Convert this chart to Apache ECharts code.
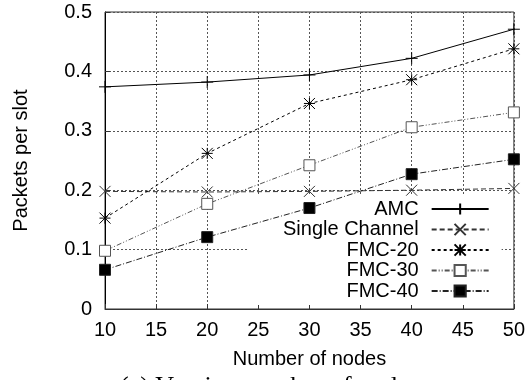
<!DOCTYPE html>
<html>
<head>
<meta charset="utf-8">
<script src="https://cdn.jsdelivr.net/npm/echarts@6/dist/echarts.min.js"></script>
<style>
  html, body { margin: 0; padding: 0; background: #fff; }
  #chart { width: 528px; height: 380px; }
</style>
</head>
<body>
<div id="chart"></div>
<script>
// Throughput (packets per slot) versus number of nodes
const nodes = [10, 20, 30, 40, 50];
const amc = [0.374, 0.382, 0.394, 0.422, 0.471];
const singleChannel = [0.198, 0.197, 0.198, 0.200, 0.203];
const fmc20 = [0.153, 0.262, 0.346, 0.386, 0.438];
const fmc30 = [0.098, 0.177, 0.242, 0.306, 0.331];
const fmc40 = [0.066, 0.121, 0.170, 0.227, 0.252];

const seriesNames = ['AMC', 'Single Channel', 'FMC-20', 'FMC-30', 'FMC-40'];
const xTicks = { min: 10, max: 50, step: 5 };
const yTicks = { min: 0, max: 0.5, step: 0.1 };

const FONT = 'Liberation Sans, Arial, sans-serif';

const pts = ys => nodes.map((x, i) => [x, ys[i]]);

// point symbols drawn as stroked paths
const SYM_PLUS = 'path://M5,0L5,10M0,5L10,5';
const SYM_CROSS = 'path://M0,0L10,10M10,0L0,10';
const SYM_STAR = 'path://M0,0L10,10M10,0L0,10M5,0L5,10M0,5L10,5';

function lineSeries(name, ys, opts) {
  return {
    name: name,
    type: 'line',
    data: pts(ys),
    z: 3,
    symbol: opts.symbol,
    symbolSize: opts.size,
    showSymbol: true,
    lineStyle: { color: opts.color, width: 1, type: opts.dash },
    itemStyle: {
      color: opts.fill,
      borderColor: opts.color,
      borderWidth: 1
    },
    emphasis: { disabled: true }
  };
}

const chart = echarts.init(document.getElementById('chart'), null, { renderer: 'canvas' });

chart.setOption({
  animation: false,
  backgroundColor: '#fff',
  title: {
    text: '(a) Varying number of nodes',
    left: 115,
    top: 369,
    textStyle: {
      fontFamily: 'Liberation Serif, Times New Roman, serif',
      fontSize: 26,
      fontWeight: 'normal',
      color: '#000'
    }
  },
  grid: {
    left: 105, right: 14, top: 12, bottom: 71,
    show: true,
    borderColor: '#333',
    borderWidth: 1,
    backgroundColor: 'transparent'
  },
  legend: {
    data: seriesNames,
    orient: 'vertical',
    align: 'right',
    left: 248,
    top: 195,
    padding: [4, 12, 4, 35],
    backgroundColor: '#fff',
    z: 1,
    itemWidth: 57,
    itemHeight: 14,
    itemGap: 0.5,
    selectedMode: false,
    textStyle: {
      fontFamily: FONT,
      fontSize: 20,
      lineHeight: 20,
      color: '#000',
      padding: [0, 8, 0, 0]
    }
  },
  xAxis: {
    type: 'value',
    min: xTicks.min,
    max: xTicks.max,
    interval: xTicks.step,
    name: 'Number of nodes',
    nameLocation: 'middle',
    nameGap: 40,
    nameTextStyle: { fontFamily: FONT, fontSize: 20, color: '#000' },
    axisLine: { show: true, onZero: false, lineStyle: { color: '#333', width: 1 } },
    axisTick: { show: true, inside: true, length: 5, lineStyle: { color: '#333' } },
    axisLabel: { fontFamily: FONT, fontSize: 20, color: '#000', margin: 11 },
    splitLine: { show: true, lineStyle: { color: '#555', width: 1, type: [2, 2] } }
  },
  yAxis: {
    type: 'value',
    min: yTicks.min,
    max: yTicks.max,
    interval: yTicks.step,
    name: 'Packets per slot',
    nameLocation: 'middle',
    nameGap: 74,
    nameTextStyle: { fontFamily: FONT, fontSize: 20, color: '#000' },
    axisLine: { show: true, lineStyle: { color: '#000', width: 1 } },
    axisTick: { show: true, inside: true, length: 5, lineStyle: { color: '#333' } },
    axisLabel: { fontFamily: FONT, fontSize: 20, color: '#000', margin: 13 },
    splitLine: { show: true, lineStyle: { color: '#555', width: 1, type: [2, 2] } }
  },
  series: [
    lineSeries(seriesNames[0], amc, { symbol: SYM_PLUS, size: 12, color: '#000', fill: '#000', dash: 'solid' }),
    lineSeries(seriesNames[1], singleChannel, { symbol: SYM_CROSS, size: 11, color: '#333', fill: '#333', dash: [5, 3] }),
    lineSeries(seriesNames[2], fmc20, { symbol: SYM_STAR, size: 11, color: '#000', fill: '#000', dash: [3, 3] }),
    lineSeries(seriesNames[3], fmc30, { symbol: 'rect', size: 11, color: '#555', fill: '#fff', dash: [5, 2, 1, 2, 1, 2] }),
    lineSeries(seriesNames[4], fmc40, { symbol: 'rect', size: 11, color: '#222', fill: '#000', dash: [6, 2, 1, 2] })
  ]
});
</script>
</body>
</html>
